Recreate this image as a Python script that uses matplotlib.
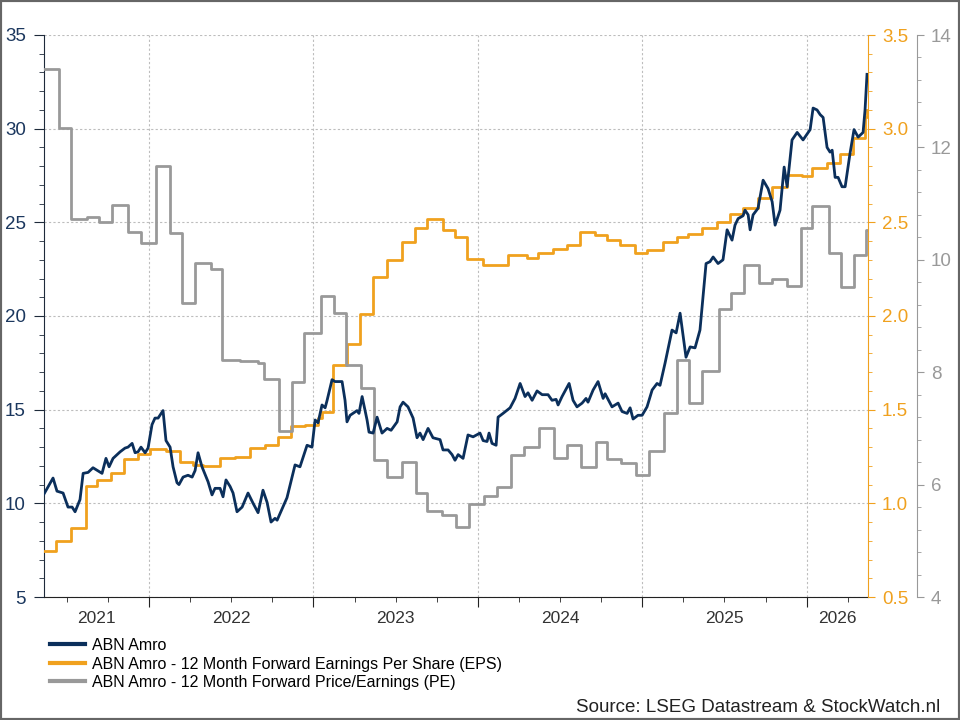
import numpy as np
import matplotlib.pyplot as plt
from matplotlib.ticker import MultipleLocator, NullFormatter
from matplotlib.patches import Rectangle

plt.rcParams['font.family'] = ['Liberation Sans', 'DejaVu Sans']

NAVY = '#0b2f5b'
ORANGE = '#f0a11e'
GRAY = '#999999'

# time in decimal years
price_t = [2021.361, 2021.416, 2021.440, 2021.477, 2021.507, 2021.532, 2021.550, 2021.580, 2021.599, 2021.629,
           2021.659, 2021.714, 2021.738, 2021.757, 2021.781, 2021.824, 2021.854, 2021.872, 2021.897, 2021.915,
           2021.933, 2021.951, 2021.976, 2021.994, 2022.018, 2022.036, 2022.055, 2022.085, 2022.103, 2022.128,
           2022.146, 2022.170, 2022.182, 2022.207, 2022.237, 2022.262, 2022.280, 2022.298, 2022.322, 2022.347,
           2022.359, 2022.383, 2022.401, 2022.432, 2022.450, 2022.468, 2022.493, 2022.511, 2022.535, 2022.566,
           2022.602, 2022.633, 2022.663, 2022.693, 2022.718, 2022.742, 2022.766, 2022.779, 2022.839, 2022.888,
           2022.918, 2022.961, 2022.991, 2023.010, 2023.028, 2023.052, 2023.071, 2023.083, 2023.113, 2023.131,
           2023.174, 2023.192, 2023.204, 2023.223, 2023.265, 2023.277, 2023.296, 2023.326, 2023.338, 2023.363,
           2023.387, 2023.417, 2023.448, 2023.472, 2023.509, 2023.527, 2023.545, 2023.575, 2023.606, 2023.630,
           2023.648, 2023.667, 2023.697, 2023.727, 2023.770, 2023.788, 2023.819, 2023.843, 2023.861, 2023.880,
           2023.910, 2023.940, 2023.971, 2024.013, 2024.032, 2024.056, 2024.068, 2024.086, 2024.111, 2024.123,
           2024.153, 2024.196, 2024.226, 2024.257, 2024.287, 2024.305, 2024.330, 2024.360, 2024.391, 2024.427,
           2024.451, 2024.476, 2024.488, 2024.512, 2024.555, 2024.579, 2024.603, 2024.634, 2024.658, 2024.670,
           2024.701, 2024.731, 2024.762, 2024.774, 2024.816, 2024.853, 2024.877, 2024.908, 2024.926, 2024.944,
           2024.974, 2024.999, 2025.029, 2025.060, 2025.090, 2025.108, 2025.139, 2025.181, 2025.206, 2025.230,
           2025.266, 2025.291, 2025.321, 2025.351, 2025.388, 2025.412, 2025.431, 2025.461, 2025.491, 2025.516,
           2025.546, 2025.564, 2025.583, 2025.613, 2025.625, 2025.644, 2025.656, 2025.674, 2025.704, 2025.735,
           2025.765, 2025.790, 2025.808, 2025.838, 2025.863, 2025.881, 2025.911, 2025.942, 2025.978, 2026.021,
           2026.039, 2026.063, 2026.082, 2026.100, 2026.124, 2026.142, 2026.155, 2026.173, 2026.191, 2026.215,
           2026.234, 2026.264, 2026.288, 2026.313, 2026.343, 2026.355, 2026.367]
price = [10.5, 11.35, 10.65, 10.55, 9.8, 9.8, 9.55, 10.2, 11.6, 11.65,
         11.9, 11.6, 12.4, 11.95, 12.4, 12.75, 12.95, 13.0, 13.2, 12.7,
         12.75, 13.0, 12.7, 12.95, 14.2, 14.55, 14.55, 14.95, 13.35, 13.0,
         11.95, 11.1, 11.0, 11.4, 11.5, 11.4, 11.75, 12.7, 11.95, 11.4,
         11.15, 10.45, 10.8, 10.8, 10.35, 11.25, 10.9, 10.55, 9.55, 9.8,
         10.55, 10.0, 9.5, 10.7, 10.05, 9.0, 9.2, 9.1, 10.3, 12.05,
         11.95, 13.1, 13.0, 14.45, 14.3, 15.25, 15.1, 15.5, 16.6, 16.5,
         16.5, 15.5, 14.35, 14.7, 14.95, 14.8, 15.7, 14.45, 13.8, 13.75,
         14.6, 13.75, 14.0, 13.9, 14.35, 15.15, 15.4, 15.15, 14.55, 13.5,
         13.75, 13.4, 14.0, 13.5, 13.4, 12.85, 12.85, 12.6, 12.3, 12.6,
         12.4, 13.65, 13.55, 13.75, 13.35, 13.3, 13.75, 13.2, 13.1, 14.6,
         14.8, 15.1, 15.6, 16.4, 15.7, 15.9, 15.5, 16.0, 15.8, 15.8,
         15.5, 15.55, 15.25, 15.7, 16.4, 15.5, 15.15, 15.35, 15.6, 15.4,
         16.05, 16.5, 15.6, 15.85, 15.15, 15.35, 14.9, 14.8, 15.1, 14.5,
         14.7, 14.7, 15.15, 16.05, 16.4, 16.3, 17.5, 19.25, 19.1, 20.15,
         17.8, 18.35, 18.3, 19.25, 22.8, 22.9, 23.15, 22.8, 23.0, 24.6,
         24.05, 24.85, 25.2, 25.35, 25.65, 25.4, 24.6, 25.4, 25.75, 27.25,
         26.8, 26.1, 24.85, 25.65, 27.95, 26.9, 29.4, 29.8, 29.4, 29.95,
         31.1, 31.0, 30.75, 30.6, 29.0, 28.75, 28.85, 27.4, 27.4, 26.9,
         26.9, 28.7, 29.95, 29.55, 29.8, 31.0, 32.9]

eps_t = [2021.361, 2021.434, 2021.526, 2021.617, 2021.684, 2021.769, 2021.848, 2021.933, 2022.006, 2022.103,
         2022.189, 2022.268, 2022.328, 2022.432, 2022.523, 2022.614, 2022.706, 2022.785, 2022.864, 2022.949,
         2023.028, 2023.052, 2023.119, 2023.204, 2023.283, 2023.363, 2023.448, 2023.539, 2023.618, 2023.691,
         2023.788, 2023.861, 2023.934, 2024.032, 2024.184, 2024.299, 2024.366, 2024.457, 2024.543, 2024.622,
         2024.713, 2024.786, 2024.865, 2024.956, 2025.029, 2025.127, 2025.212, 2025.279, 2025.364, 2025.455,
         2025.534, 2025.613, 2025.704, 2025.790, 2025.881, 2025.972, 2026.033, 2026.124, 2026.203, 2026.282,
         2026.355, 2026.367]
eps = [0.745, 0.80, 0.87, 1.09, 1.125, 1.16, 1.235, 1.265, 1.29, 1.28,
       1.22, 1.205, 1.20, 1.24, 1.25, 1.295, 1.31, 1.355, 1.415, 1.42,
       1.455, 1.49, 1.74, 1.85, 2.01, 2.21, 2.30, 2.395, 2.47, 2.52,
       2.46, 2.42, 2.305, 2.27, 2.325, 2.31, 2.335, 2.36, 2.38, 2.45,
       2.43, 2.405, 2.38, 2.335, 2.35, 2.395, 2.42, 2.44, 2.47, 2.50,
       2.545, 2.575, 2.63, 2.69, 2.755, 2.75, 2.79, 2.815, 2.865, 2.95,
       3.06, 3.10]

pe_t = [2021.361, 2021.453, 2021.526, 2021.623, 2021.696, 2021.775, 2021.872, 2021.951, 2022.043, 2022.128,
        2022.201, 2022.280, 2022.377, 2022.444, 2022.554, 2022.663, 2022.700, 2022.791, 2022.870, 2022.943,
        2023.046, 2023.125, 2023.198, 2023.290, 2023.369, 2023.448, 2023.539, 2023.624, 2023.691, 2023.782,
        2023.867, 2023.946, 2024.038, 2024.117, 2024.202, 2024.281, 2024.372, 2024.464, 2024.543, 2024.628,
        2024.719, 2024.786, 2024.871, 2024.962, 2025.041, 2025.133, 2025.212, 2025.285, 2025.364, 2025.467,
        2025.540, 2025.619, 2025.710, 2025.790, 2025.881, 2025.966, 2026.033, 2026.136, 2026.209, 2026.288,
        2026.361, 2026.367]
pe = [13.4, 12.35, 10.73, 10.76, 10.67, 10.98, 10.5, 10.3, 11.67, 10.48,
      9.23, 9.94, 9.84, 8.22, 8.2, 8.16, 7.88, 6.95, 7.83, 8.7,
      9.36, 9.05, 8.13, 7.72, 6.44, 6.14, 6.4, 5.85, 5.53, 5.46,
      5.25, 5.65, 5.8, 5.96, 6.53, 6.67, 7.0, 6.47, 6.7, 6.31,
      6.76, 6.45, 6.38, 6.17, 6.6, 7.27, 8.22, 7.45, 8.02, 9.12,
      9.41, 9.9, 9.59, 9.66, 9.53, 10.57, 10.96, 10.12, 9.52, 10.09,
      10.53, 10.53]

years = [2021, 2022, 2023, 2024, 2025, 2026]
labels = ['ABN Amro',
          'ABN Amro - 12 Month Forward Earnings Per Share (EPS)',
          'ABN Amro - 12 Month Forward Price/Earnings (PE)']
x_min, x_max = 2021.361, 2026.373

fig = plt.figure(figsize=(9.6, 7.2), dpi=100)
ax = fig.add_axes([44 / 960, 123 / 720, 824 / 960, 562 / 720])
ax_eps = ax.twinx()
ax_pe = ax.twinx()
ax_price = ax.twinx()
ax_pe.spines['right'].set_position(('outward', 35.3))

l2, = ax_eps.step(eps_t, eps, where='post', color=ORANGE, lw=2)
l3, = ax_pe.step(pe_t, pe, where='post', color=GRAY, lw=2)
l1, = ax_price.plot(price_t, price, color=NAVY, lw=2)

ax.set_xlim(x_min, x_max)
ax.set_ylim(5, 35)
ax_price.set_ylim(5, 35)
ax_eps.set_ylim(0.5, 3.5)
ax_pe.set_ylim(4, 14)
ax_price.set_axis_off()

# grid
ax.xaxis.set_major_locator(MultipleLocator(1))
ax.xaxis.set_minor_locator(MultipleLocator(0.25))
ax.xaxis.set_major_formatter(NullFormatter())
ax.yaxis.set_major_locator(MultipleLocator(5))
ax.yaxis.set_minor_locator(MultipleLocator(1))
ax.grid(True, which='major', color='#bdbdbd', linestyle=(0, (2, 2)), lw=0.8)

for s in ['top', 'right']:
    ax.spines[s].set_visible(False)
ax.spines['left'].set_color('#1e2a3a')
ax.spines['bottom'].set_color('#222222')
ax.tick_params(axis='y', which='major', length=7, color='#1e2a3a', labelcolor='#1b375e', labelsize=13.5, pad=6)
ax.tick_params(axis='y', which='minor', length=3.5, color='#1e2a3a')
ax.tick_params(axis='x', which='major', length=7, color='#222222')
ax.tick_params(axis='x', which='minor', length=3.5, color='#222222')

for a, col, major, minor in [(ax_eps, ORANGE, 0.5, 0.1), (ax_pe, GRAY, 2, 0.4)]:
    for s in ['top', 'left', 'bottom']:
        a.spines[s].set_visible(False)
    a.spines['right'].set_color(col)
    a.yaxis.set_major_locator(MultipleLocator(major))
    a.yaxis.set_minor_locator(MultipleLocator(minor))
    a.tick_params(axis='y', which='major', length=5, color=col, labelcolor=col, labelsize=13.5, pad=5)
    a.tick_params(axis='y', which='minor', length=3, color=col)
ax_eps.yaxis.set_major_formatter(plt.FormatStrFormatter('%.1f'))

# year labels centred in the visible part of each year
for y in years:
    lo, hi = max(y, x_min), min(y + 1, x_max)
    ax.text((lo + hi) / 2, -0.038, str(y), transform=ax.get_xaxis_transform(),
            ha='center', va='center', fontsize=12.5, color='#333333')

fig.legend([l1, l2, l3], labels, loc='upper left', bbox_to_anchor=(50 / 960, 1 - 638 / 720),
           frameon=False, fontsize=11.5, handlelength=2.2, handletextpad=0.45,
           labelspacing=0.22, borderpad=0, borderaxespad=0)
for h in fig.legends[0].legend_handles:
    h.set_linewidth(3)

fig.text(940 / 960, 12 / 720, 'Source: LSEG Datastream & StockWatch.nl', ha='right', va='center',
         fontsize=13.5, color='#222222')

fig.patches.append(Rectangle((0, 0), 1, 1, transform=fig.transFigure, fill=False,
                             edgecolor='#666666', lw=3))

fig.savefig('out.png', dpi=100)
